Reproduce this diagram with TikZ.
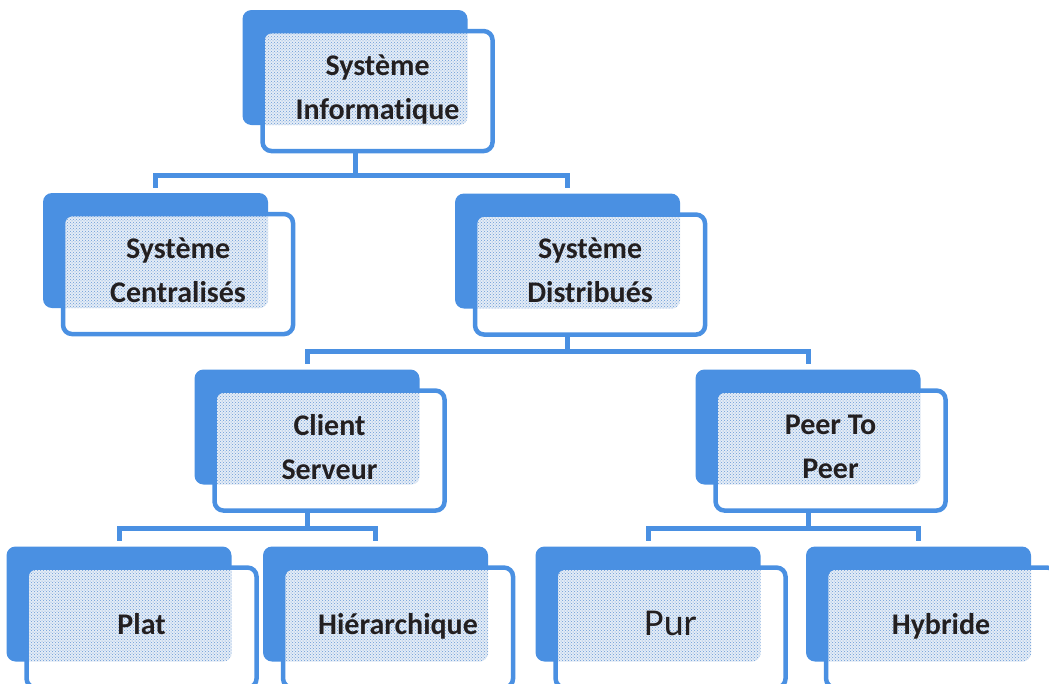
\documentclass[tikz,border=0pt]{standalone}
\usepackage{fontspec}
\setmainfont{Carlito}[Ligatures=NoCommon]
\usetikzlibrary{patterns,positioning}
\definecolor{boxblue}{RGB}{74,144,226}
\definecolor{dotblue}{RGB}{105,155,215}
\definecolor{dotbase}{RGB}{228,236,246}
\definecolor{inkdark}{RGB}{35,31,32}

\tikzset{
  backbox/.style={rectangle, rounded corners=9pt, fill=boxblue, inner sep=0pt,
    minimum width=225pt, minimum height=115pt},
  frontbox/.style={rectangle, rounded corners=9pt, draw=boxblue, line width=4.5pt,
    fill=white, minimum width=230pt, minimum height=120pt, anchor=north west,
    align=center, text=inkdark, font=\bfseries\fontsize{30}{44}\selectfont,
    execute at end node={\rule[-8pt]{0pt}{8pt}},
    path picture={\fill[dotbase] (#1.south west) rectangle (#1.north east);
      \fill[pattern=crosshatch dots, pattern color=dotblue]
      (#1.south west) rectangle (#1.north east);}},
  link/.style={draw=boxblue, line width=5pt, shorten >=5pt}
}

\begin{document}
\begin{tikzpicture}[x=1pt, y=-1pt]
    \useasboundingbox (0,0) rectangle (1049,683);

    % Level 0
    \node[backbox] (info-b) at (355,67.5) {};
    \node[frontbox=info-b] (info) at ([shift={(18,19)}]info-b.north west) {Système\\Informatique};

    % Level 1
    \node[backbox] (cent-b) at (155.5,250.5) {};
    \node[frontbox=cent-b] (cent) at ([shift={(18,19)}]cent-b.north west) {Système\\Centralisés};
    \node[backbox] (dist-b) at (567.5,251) {};
    \node[frontbox=dist-b] (dist) at ([shift={(18,19)}]dist-b.north west) {Système\\Distribués};

    % Level 2
    \node[backbox] (client-b) at (307,427) {};
    \node[frontbox=client-b] (client) at ([shift={(18,19)}]client-b.north west) {Client\\Serveur};
    \node[backbox] (peer-b) at (808,427) {};
    \node[frontbox=peer-b] (peer) at ([shift={(18,19)}]peer-b.north west) {Peer To\\Peer};

    % Level 3
    \node[backbox] (plat-b) at (119,604) {};
    \node[frontbox=plat-b] (plat) at ([shift={(18,19)}]plat-b.north west) {Plat};
    \node[backbox] (hier-b) at (375.5,604) {};
    \node[frontbox=hier-b] (hier) at ([shift={(18,19)}]hier-b.north west) {Hiérarchique};
    \node[backbox] (pur-b) at (648,604) {};
    \node[frontbox=pur-b, font=\fontsize{38}{40}\selectfont] (pur) at ([shift={(18,19)}]pur-b.north west) {Pur};
    \node[backbox] (hyb-b) at (918.5,604) {};
    \node[frontbox=hyb-b] (hyb) at ([shift={(18,19)}]hyb-b.north west) {Hybride};

    % Connectors
    \draw[link] (info-b.south |- info.south) -- ++(0,22) -| (cent-b.north);
    \draw[link] (info-b.south |- info.south) -- ++(0,22) -| (dist-b.north);
    \draw[link] (dist-b.south |- dist.south) -- ++(0,15) -| (client-b.north);
    \draw[link] (dist-b.south |- dist.south) -- ++(0,15) -| (peer-b.north);
    \draw[link] (client-b.south |- client.south) -- ++(0,16) -| (plat-b.north);
    \draw[link] (client-b.south |- client.south) -- ++(0,16) -| (hier-b.north);
    \draw[link] (peer-b.south |- peer.south) -- ++(0,16) -| (pur-b.north);
    \draw[link] (peer-b.south |- peer.south) -- ++(0,16) -| (hyb-b.north);
\end{tikzpicture}
\end{document}
